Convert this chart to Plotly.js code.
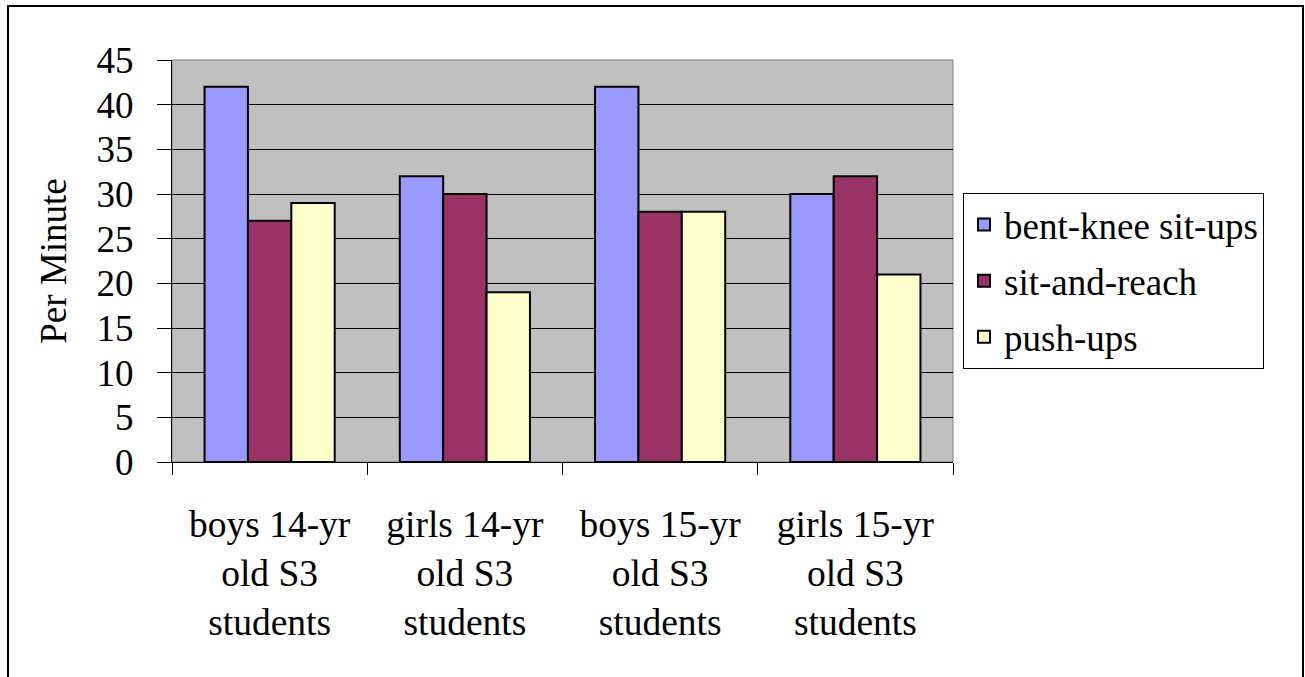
<!DOCTYPE html>
<html>
<head>
<meta charset="utf-8">
<script src="https://cdn.plot.ly/plotly-3.0.1.min.js"></script>
</head>
<body style="margin:0;background:#fff">
<div id="chart" style="width:1305px;height:677px;position:absolute;left:0;top:0"></div>
<div style="position:absolute;left:7px;top:5px;width:1293px;height:700px;border:2px solid #000;pointer-events:none"></div>
<script>
const categories = [
  "boys 14-yr<br>old S3<br>students",
  "girls 14-yr<br>old S3<br>students",
  "boys 15-yr<br>old S3<br>students",
  "girls 15-yr<br>old S3<br>students"
];
const seriesNames = ["bent-knee sit-ups", "sit-and-reach", "push-ups"];
const sitUps = [42, 32, 42, 30];
const sitAndReach = [27, 30, 28, 32];
const pushUps = [29, 19, 28, 21];
const yTicks = [0, 5, 10, 15, 20, 25, 30, 35, 40, 45];
const colors = ["#9999FF", "#993366", "#FFFFCC"];

const FAM = "Liberation Serif";
const values = [sitUps, sitAndReach, pushUps];

const traces = values.map((v, i) => ({
  type: "bar",
  name: seriesNames[i],
  legendgroup: "g" + i,
  x: categories,
  y: v,
  marker: { color: colors[i], line: { color: "#000", width: 2 } }
}));

const layout = {
  width: 1305, height: 677,
  margin: { l: 172, r: 352, t: 60, b: 215 },
  paper_bgcolor: "rgba(0,0,0,0)",
  plot_bgcolor: "#C0C0C0",
  barmode: "group",
  bargap: 1/3,
  bargroupgap: 0,
  font: { family: FAM, size: 37, color: "#000" },
  showlegend: true,
  legend: {
    x: 1.0128, xanchor: "left", y: 0.669, yanchor: "top",
    bgcolor: "#fff", bordercolor: "#000", borderwidth: 1,
    font: { family: FAM, size: 37, color: "#000" },
    tracegroupgap: 5
  },
  xaxis: {
    type: "category",
    categoryarray: categories,
    tickson: "boundaries",
    ticks: "outside", ticklen: 12, tickwidth: 1, tickcolor: "#000",
    showline: true, linecolor: "#000", linewidth: 1,
    showgrid: false, zeroline: false,
    tickfont: { family: FAM, size: 37.5, color: "#000" },
    ticklabelstandoff: 29,
    fixedrange: true
  },
  xaxis2: {
    overlaying: "x", anchor: "y",
    range: [-0.5, 3.5],
    tickmode: "array", tickvals: [0.5, 1.5, 2.5],
    ticks: "inside", ticklen: 12, tickwidth: 1, tickcolor: "#000",
    showticklabels: false, showgrid: false, zeroline: false, showline: false
  },
  yaxis: {
    range: [0, 45],
    tickmode: "array", tickvals: yTicks,
    ticks: "outside", ticklen: 14, tickwidth: 1, tickcolor: "#000",
    showline: true, linecolor: "#000", linewidth: 1,
    showgrid: true, gridcolor: "#000", gridwidth: 1,
    zeroline: false,
    tickfont: { family: FAM, size: 37, color: "#000" },
    ticklabelstandoff: 16,
    title: { text: "Per Minute", font: { family: FAM, size: 37, color: "#000" }, standoff: 18 },
    automargin: false,
    fixedrange: true
  },
  shapes: [{
    type: "rect", xref: "paper", yref: "paper", x0: 0, x1: 1, y0: 0, y1: 1,
    line: { color: "#808080", width: 1 }, layer: "below"
  }]
};

Plotly.newPlot("chart", traces, layout, { displayModeBar: false, staticPlot: true });
</script>
</body>
</html>
